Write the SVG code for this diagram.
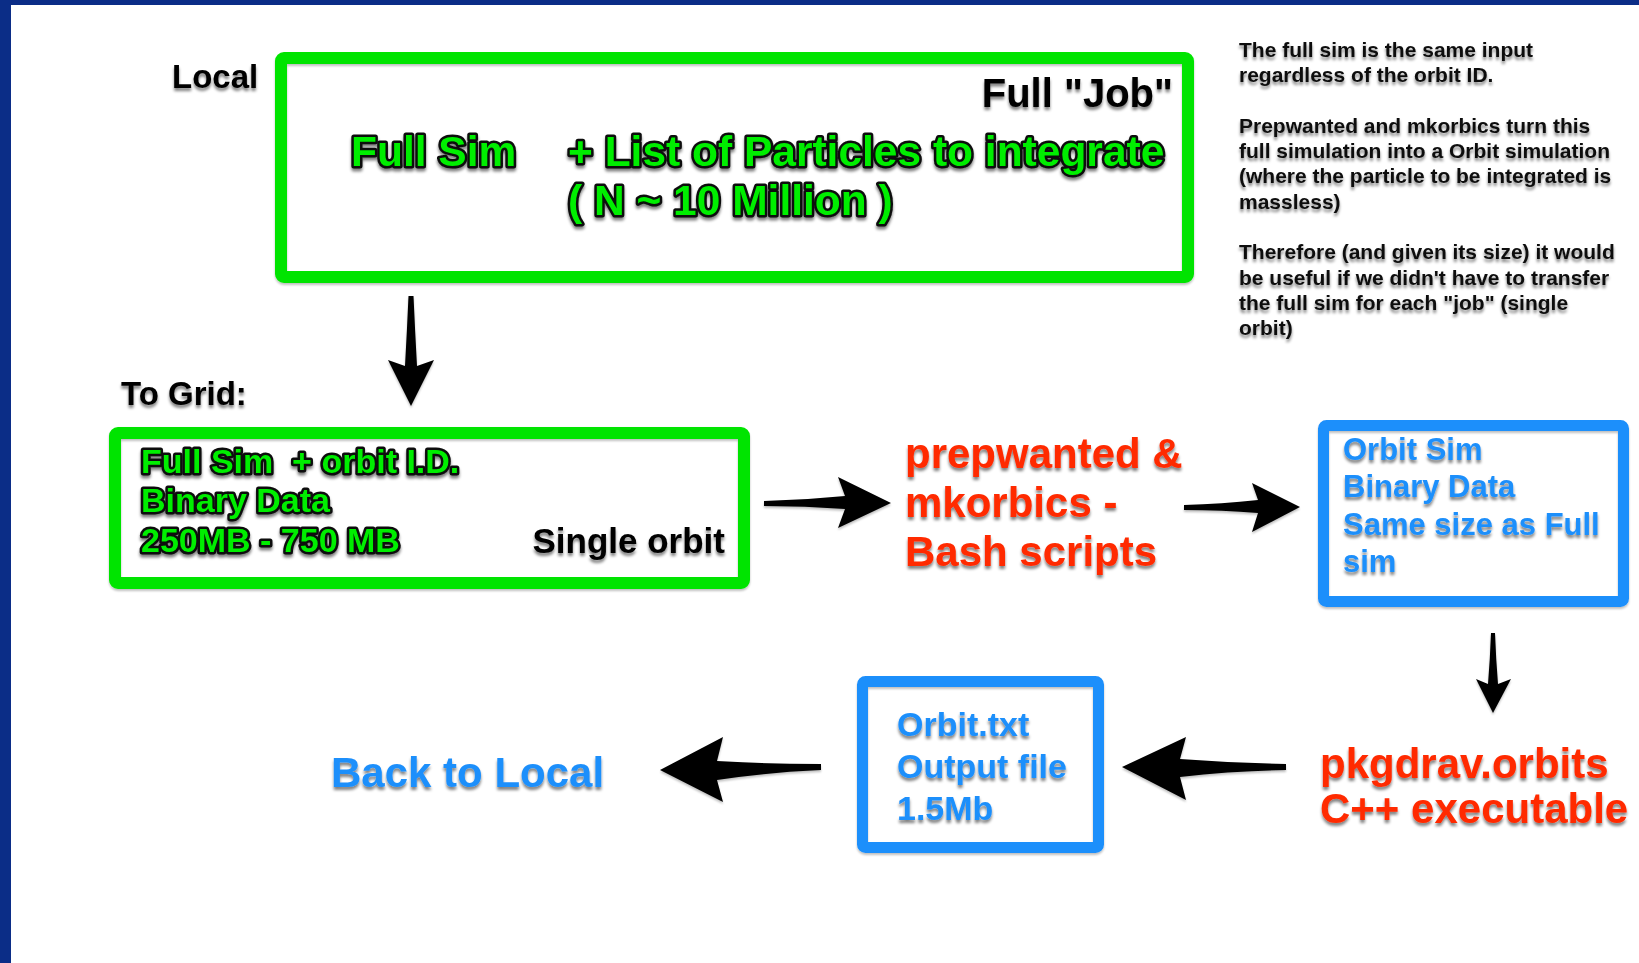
<svg xmlns="http://www.w3.org/2000/svg" width="1639" height="963" viewBox="0 0 1639 963">
  <defs>
    <filter id="shadow" x="-10%" y="-30%" width="120%" height="170%">
      <feGaussianBlur in="SourceAlpha" stdDeviation="1.6" result="b"/>
      <feOffset in="b" dx="0" dy="2.5" result="o"/>
      <feComponentTransfer in="o" result="s"><feFuncA type="linear" slope="0.5"/></feComponentTransfer>
      <feMerge><feMergeNode in="s"/><feMergeNode in="SourceGraphic"/></feMerge>
    </filter>
    <filter id="boxshadow" x="-5%" y="-5%" width="110%" height="115%">
      <feGaussianBlur in="SourceAlpha" stdDeviation="1.2" result="b"/>
      <feOffset in="b" dx="0" dy="1.5" result="o"/>
      <feComponentTransfer in="o" result="s"><feFuncA type="linear" slope="0.25"/></feComponentTransfer>
      <feMerge><feMergeNode in="s"/><feMergeNode in="SourceGraphic"/></feMerge>
    </filter>
  </defs>
  <style>
    .t { font-family: "Liberation Sans", Arial, Helvetica, sans-serif; font-weight: bold; filter: url(#shadow); white-space: pre; }
    .blk { fill: #000; }
    .green { fill: #00ee00; stroke: #0a0a0a; stroke-width: 5; paint-order: stroke; stroke-linejoin: round; }
    .blue { fill: #1e8ffb; }
    .red { fill: #ff2a00; }
    .gbox { fill: none; stroke: #00e400; stroke-width: 12; filter: url(#boxshadow); }
    .bbox { fill: none; stroke: #1e8ffb; stroke-width: 11; filter: url(#boxshadow); }
    .arrow { fill: #000; filter: url(#boxshadow); }
    .note { font-size: 21px; fill: #111; }
  </style>

  <rect x="0" y="0" width="1639" height="963" fill="#ffffff"/>
  <rect x="0" y="0" width="1639" height="5" fill="#0b2d87"/>
  <rect x="0" y="0" width="11" height="963" fill="#0b2d87"/>

  <g id="label-local">
    <text class="t blk" x="172" y="88" font-size="33">Local</text>
  </g>

  <g id="node-fulljob">
    <rect class="gbox" x="281" y="58" width="907" height="219" rx="3"/>
    <text class="t blk" x="1173" y="107" font-size="40" text-anchor="end">Full "Job"</text>
    <text class="t green" x="351" y="166" font-size="42.5">Full Sim</text>
    <text class="t green" x="568" y="166" font-size="42.5">+ List of Particles to integrate</text>
    <text class="t green" x="568" y="215" font-size="42.5">( N ~ 10 Million )</text>
  </g>

  <g id="note">
    <text class="t note" x="1239" y="57">The full sim is the same input</text>
    <text class="t note" x="1239" y="82">regardless of the orbit ID.</text>
    <text class="t note" x="1239" y="133">Prepwanted and mkorbics turn this</text>
    <text class="t note" x="1239" y="158">full simulation into a Orbit simulation</text>
    <text class="t note" x="1239" y="183">(where the particle to be integrated is</text>
    <text class="t note" x="1239" y="209">massless)</text>
    <text class="t note" x="1239" y="259">Therefore (and given its size) it would</text>
    <text class="t note" x="1239" y="285">be useful if we didn't have to transfer</text>
    <text class="t note" x="1239" y="310">the full sim for each "job" (single</text>
    <text class="t note" x="1239" y="335">orbit)</text>
  </g>

  <g id="label-togrid">
    <text class="t blk" x="121" y="405" font-size="33">To Grid:</text>
  </g>

  <g id="node-grid">
    <rect class="gbox" x="115" y="433" width="629" height="150" rx="3"/>
    <text class="t green" x="141" y="473" font-size="34">Full Sim  + orbit I.D.</text>
    <text class="t green" x="141" y="512" font-size="34">Binary Data</text>
    <text class="t green" x="141" y="552" font-size="34">250MB - 750 MB</text>
    <text class="t blk" x="725" y="553" font-size="35" text-anchor="end">Single orbit</text>
  </g>

  <g id="node-prepwanted">
    <text class="t red" x="905" y="468" font-size="42">prepwanted &amp;</text>
    <text class="t red" x="905" y="517" font-size="42">mkorbics -</text>
    <text class="t red" x="905" y="566" font-size="42">Bash scripts</text>
  </g>

  <g id="node-orbitsim">
    <rect class="bbox" x="1323.5" y="425.5" width="300" height="176" rx="3"/>
    <text class="t blue" x="1343" y="460" font-size="31">Orbit Sim</text>
    <text class="t blue" x="1343" y="497" font-size="31">Binary Data</text>
    <text class="t blue" x="1343" y="535" font-size="31">Same size as Full</text>
    <text class="t blue" x="1343" y="572" font-size="31">sim</text>
  </g>

  <g id="node-pkgdrav">
    <text class="t red" x="1320" y="778" font-size="42">pkgdrav.orbits</text>
    <text class="t red" x="1320" y="823" font-size="42">C++ executable</text>
  </g>

  <g id="node-orbittxt">
    <rect class="bbox" x="862.5" y="681.5" width="236" height="166" rx="3"/>
    <text class="t blue" x="897" y="736" font-size="34">Orbit.txt</text>
    <text class="t blue" x="897" y="778" font-size="34">Output file</text>
    <text class="t blue" x="897" y="820" font-size="34">1.5Mb</text>
  </g>

  <g id="node-backlocal">
    <text class="t blue" x="331" y="787" font-size="42">Back to Local</text>
  </g>

  <g id="connectors">
    <path class="arrow" d="M408.5,296 L413.5,296 Q415,330 417,366 L434,360 L411,406 L388,360 L405,366 Q407,330 408.5,296 Z"/>
    <path class="arrow" d="M764,501 Q805,500 845,496 L838,477 L891,503 L838,528 L845,509 Q805,506 764,506 Z"/>
    <path class="arrow" d="M1184,505 Q1222,504 1258,500 L1252,483 L1300,507 L1252,532 L1258,513 Q1222,510 1184,510 Z"/>
    <path class="arrow" d="M1491,633 L1495,633 Q1496,660 1498,684 L1511,679 L1493,713 L1476,679 L1488,684 Q1490,660 1491,633 Z"/>
    <path class="arrow" d="M1286,764 Q1232,763 1180,759 L1186,737 L1122,767 L1186,800 L1180,777 Q1232,771 1286,770 Z"/>
    <path class="arrow" d="M821,764 Q770,764 717,761 L723,737 L660,770 L723,802 L717,780 Q770,772 821,770 Z"/>
  </g>
</svg>
